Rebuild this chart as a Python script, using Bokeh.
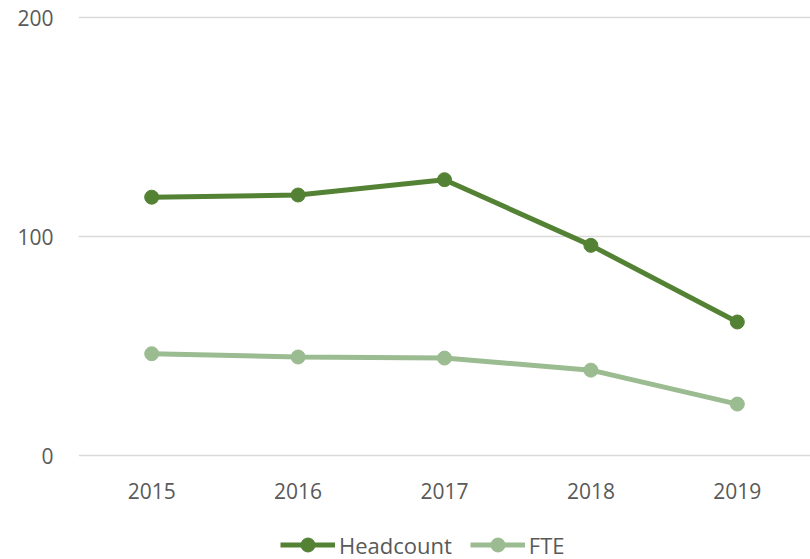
from bokeh.plotting import figure
from bokeh.models import Range1d, FixedTicker, Legend, LegendItem
from bokeh.embed import file_html
from bokeh.resources import INLINE

years = ["2015", "2016", "2017", "2018", "2019"]
headcount = [118, 119, 126, 96, 61]
fte = [46.5, 45, 44.5, 39, 23.5]
y_ticks = [0, 100, 200]

HC_COLOR = "#548235"
FTE_COLOR = "#9BBB91"
TEXT = "#595959"
FONT = "Open Sans"

p = figure(x_range=years, y_range=Range1d(-47.5, 201), width=810, height=559,
           output_backend="svg", toolbar_location=None,
           min_border_left=78, min_border_right=0, min_border_top=15,
           min_border_bottom=0)
p.outline_line_color = None
p.background_fill_color = "white"
p.border_fill_color = "white"

p.xgrid.grid_line_color = None
p.ygrid.grid_line_color = "#D9D9D9"
p.ygrid.grid_line_width = 1.5

p.yaxis.ticker = FixedTicker(ticks=y_ticks)
p.xaxis.fixed_location = 0
for ax in (p.xaxis[0], p.yaxis[0]):
    ax.axis_line_color = None
    ax.major_tick_line_color = None
    ax.minor_tick_line_color = None
    ax.major_label_text_font = FONT
    ax.major_label_text_font_size = "21px"
    ax.major_label_text_color = TEXT
p.yaxis.major_label_standoff = 19
p.xaxis.major_label_standoff = 21

l1 = p.line(years, headcount, line_color=HC_COLOR, line_width=5)
c1 = p.scatter(years, headcount, size=14, fill_color=HC_COLOR, line_color=HC_COLOR)
l2 = p.line(years, fte, line_color=FTE_COLOR, line_width=5)
c2 = p.scatter(years, fte, size=14, fill_color=FTE_COLOR, line_color=FTE_COLOR)

legend = Legend(items=[LegendItem(label="Headcount", renderers=[l1, c1]),
                       LegendItem(label="FTE", renderers=[l2, c2])],
                orientation="horizontal", location=(202, -3),
                glyph_width=55, glyph_height=35, spacing=18, label_standoff=4,
                label_text_font=FONT, label_text_font_size="22px",
                label_text_color=TEXT, border_line_color=None,
                background_fill_alpha=0, padding=0, margin=0)
p.add_layout(legend, "center")

open("out.html", "w").write(file_html(p, INLINE))
